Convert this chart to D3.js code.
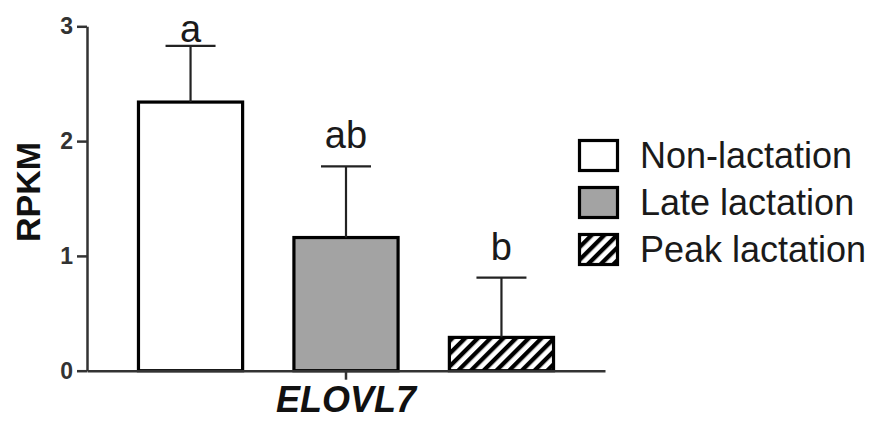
<!DOCTYPE html>
<html>
<head>
<meta charset="utf-8">
<script src="https://cdn.jsdelivr.net/npm/d3@7"></script>
<style>
  html, body { margin: 0; padding: 0; background: #fff; }
  text { font-family: "Liberation Sans", Arial, Helvetica, sans-serif; }
</style>
</head>
<body>
<svg id="chart" width="870" height="421"></svg>
<script>
const genes = ["ELOVL7"];
const groups = ["Non-lactation", "Late lactation", "Peak lactation"];
const means = [2.34, 1.16, 0.29];
const sds = [0.49, 0.62, 0.52];
const letters = ["a", "ab", "b"];
const yTicks = [0, 1, 2, 3];

const svg = d3.select("#chart");

// hatch pattern
const defs = svg.append("defs");
const pat = defs.append("pattern")
  .attr("id", "hatch")
  .attr("patternUnits", "userSpaceOnUse")
  .attr("width", 9).attr("height", 9)
  .attr("patternTransform", "rotate(45)");
pat.append("rect").attr("width", 9).attr("height", 9).attr("fill", "#fff");
pat.append("rect").attr("x", 0).attr("y", 0).attr("width", 4.3).attr("height", 9).attr("fill", "#000");

const fills = ["#ffffff", "#a3a3a3", "url(#hatch)"];

const y = d3.scaleLinear().domain([0, 3]).range([370.7, 26.3]);
const x0 = d3.scaleBand().domain(genes).range([87, 605]).paddingOuter(0.124).paddingInner(0);
const x1 = d3.scaleBand().domain(groups).range([0, x0.bandwidth()]).paddingInner(0.33).paddingOuter(0);

const data = groups.map((g, i) => ({ g, m: means[i], sd: sds[i], l: letters[i], f: fills[i] }));

const gGene = svg.append("g").attr("transform", `translate(${x0("ELOVL7")},0)`);

// bars
gGene.selectAll("rect.bar").data(data).enter().append("rect")
  .attr("class", "bar")
  .attr("x", d => x1(d.g))
  .attr("y", d => y(d.m))
  .attr("width", x1.bandwidth())
  .attr("height", d => y(0) - y(d.m))
  .attr("fill", d => d.f)
  .attr("stroke", "#000")
  .attr("stroke-width", 3.2);

// error bars
const capW = 50;
gGene.selectAll("line.err").data(data).enter().append("line")
  .attr("x1", d => x1(d.g) + x1.bandwidth() / 2)
  .attr("x2", d => x1(d.g) + x1.bandwidth() / 2)
  .attr("y1", d => y(d.m))
  .attr("y2", d => y(d.m + d.sd))
  .attr("stroke", "#222").attr("stroke-width", 2.2);
gGene.selectAll("line.cap").data(data).enter().append("line")
  .attr("x1", d => x1(d.g) + x1.bandwidth() / 2 - capW / 2)
  .attr("x2", d => x1(d.g) + x1.bandwidth() / 2 + capW / 2)
  .attr("y1", d => y(d.m + d.sd))
  .attr("y2", d => y(d.m + d.sd))
  .attr("stroke", "#222").attr("stroke-width", 2.2);

// significance letters
gGene.selectAll("text.sig").data(data).enter().append("text")
  .attr("x", d => x1(d.g) + x1.bandwidth() / 2)
  .attr("y", d => Math.max(y(d.m + d.sd) - 18, 42))
  .attr("text-anchor", "middle")
  .attr("font-size", 38)
  .attr("fill", "#1a1a1a")
  .text(d => d.l);

// y axis
const yAxis = svg.append("g").attr("transform", "translate(87,0)")
  .call(d3.axisLeft(y).tickValues(yTicks).tickFormat(d3.format("d")).tickSize(10).tickSizeOuter(0).tickPadding(4));
yAxis.attr("font-size", 23);
yAxis.select(".domain").attr("stroke", "#333").attr("stroke-width", 2.5);
yAxis.selectAll(".tick line").attr("stroke", "#333").attr("stroke-width", 2.5);
yAxis.selectAll(".tick text")
  .style("font-size", "23px").attr("font-weight", "bold").attr("fill", "#333")
  .attr("font-family", "Liberation Sans, Arial, sans-serif");

// x axis
const xAxis = svg.append("g").attr("transform", `translate(0,${y(0)})`)
  .call(d3.axisBottom(x0).tickSize(9).tickSizeOuter(0).tickPadding(7));
xAxis.select(".domain").attr("stroke", "#333").attr("stroke-width", 2.5);
xAxis.selectAll(".tick line").attr("stroke", "#333").attr("stroke-width", 2.5);
xAxis.selectAll(".tick text")
  .style("font-size", "36px").attr("font-weight", "bold").attr("font-style", "italic").attr("fill", "#111")
  .attr("font-family", "Liberation Sans, Arial, sans-serif");

// y label
svg.append("text")
  .attr("transform", "translate(40,192) rotate(-90)")
  .attr("text-anchor", "middle")
  .attr("font-size", 34).attr("font-weight", "bold").attr("fill", "#111")
  .text("RPKM");

// legend
const leg = svg.append("g").attr("transform", "translate(578,139)");
const rows = leg.selectAll("g").data(data).enter().append("g")
  .attr("transform", (d, i) => `translate(0,${i * 47})`);
rows.append("rect")
  .attr("x", 1.5).attr("y", 1.5).attr("width", 38).attr("height", 30)
  .attr("fill", d => d.f).attr("stroke", "#000").attr("stroke-width", 3.2);
rows.append("text")
  .attr("x", 62).attr("y", 29)
  .attr("font-size", 36).attr("fill", "#1a1a1a")
  .text(d => d.g);
</script>
</body>
</html>
